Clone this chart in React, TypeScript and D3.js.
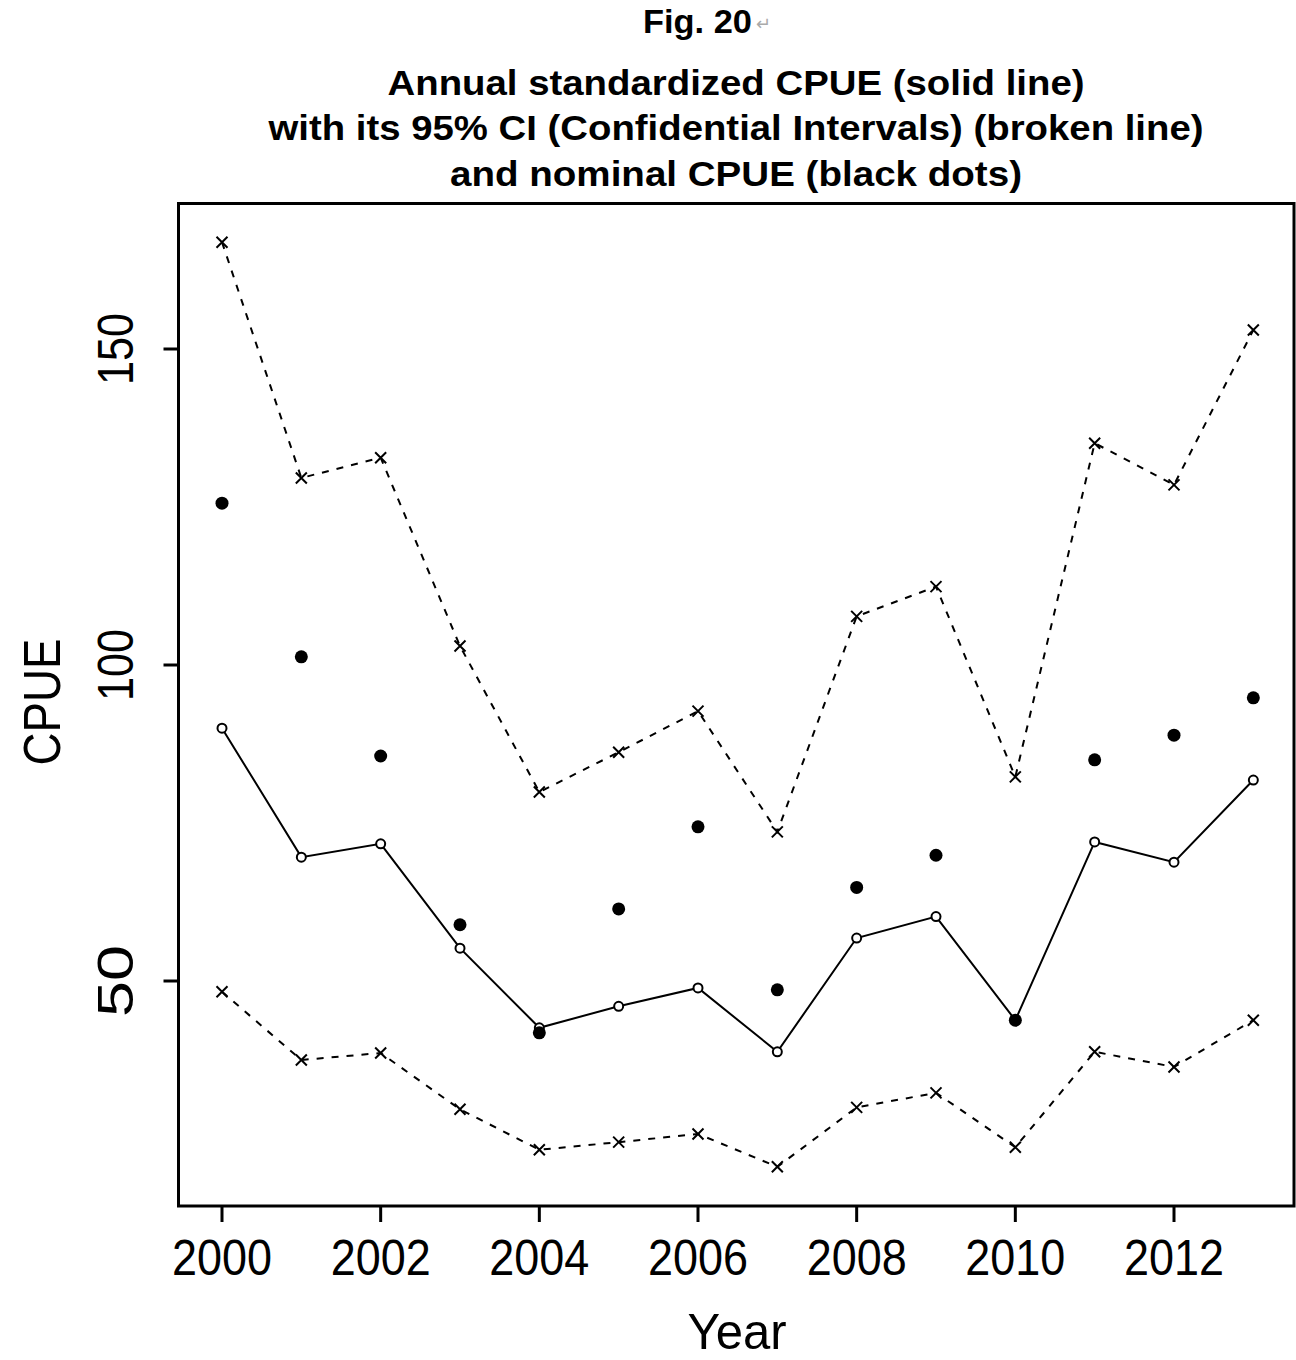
import * as d3 from "d3";

const YEARS = [2000, 2001, 2002, 2003, 2004, 2005, 2006, 2007, 2008, 2009, 2010, 2011, 2012, 2013];
const STANDARDIZED = [90, 69.6, 71.7, 55.2, 42.6, 46, 48.9, 38.8, 56.8, 60.2, 43.8, 72, 68.8, 81.8];
const UPPER_CI = [166.9, 129.6, 132.8, 103, 79.9, 86.2, 92.7, 73.6, 107.7, 112.4, 82.3, 135.1, 128.5, 153];
const LOWER_CI = [48.3, 37.5, 38.6, 29.7, 23.3, 24.5, 25.8, 20.6, 30, 32.3, 23.7, 38.8, 36.4, 43.8];
const NOMINAL = [125.6, 101.3, 85.6, 58.9, 41.8, 61.4, 74.4, 48.6, 64.8, 69.9, 43.8, 85, 88.9, 94.8];
const X_TICKS = [2000, 2002, 2004, 2006, 2008, 2010, 2012];
const Y_TICKS = [50, 100, 150];
const TITLE_LINES = [
  "Annual standardized CPUE (solid line)",
  "with its 95% CI (Confidential Intervals) (broken line)",
  "and nominal CPUE (black dots)",
];

const W = 1296;
const H = 1360;
// plot box (R style, 4% extended)
const BOX = { left: 178.5, top: 203.5, right: 1294, bottom: 1206 };
const FONT = "'Liberation Sans', Arial, sans-serif";

export default function App() {
  const x = d3.scaleLinear().domain([2000, 2012]).range([222, 1174]);
  const y = d3.scaleLinear().domain([50, 150]).range([981, 349]);

  const line = d3
    .line<number>()
    .x((_, i) => x(YEARS[i]))
    .y((d) => y(d));

  const cross = (cx: number, cy: number, k: string) => {
    const s = 5.5;
    return (
      <path
        key={k}
        d={`M${cx - s},${cy - s}L${cx + s},${cy + s}M${cx - s},${cy + s}L${cx + s},${cy - s}`}
        stroke="#000"
        strokeWidth={2}
      />
    );
  };

  const titleWidths = [697, 935, 572];
  const titleBase = [95, 140, 186];

  return (
    <div style={{ position: "absolute", left: 0, top: 0 }}>
      <svg width={W} height={H} style={{ display: "block", background: "#fff" }}>
        <rect width={W} height={H} fill="#fff" />
        {/* figure label */}
        <text
          x={643}
          y={33}
          fontFamily={FONT}
          fontWeight="bold"
          fontSize={34}
          textLength={109}
          lengthAdjust="spacingAndGlyphs"
        >
          Fig. 20
        </text>
        <text x={756} y={30} fontFamily={FONT} fontSize={18} fill="#aaa">
          ↵
        </text>

        {TITLE_LINES.map((t, i) => (
          <text
            key={t}
            x={736}
            y={titleBase[i]}
            textAnchor="middle"
            fontFamily={FONT}
            fontWeight="bold"
            fontSize={35}
            textLength={titleWidths[i]}
            lengthAdjust="spacingAndGlyphs"
          >
            {t}
          </text>
        ))}

        {/* box */}
        <rect
          x={BOX.left}
          y={BOX.top}
          width={BOX.right - BOX.left}
          height={BOX.bottom - BOX.top}
          fill="none"
          stroke="#000"
          strokeWidth={3}
        />

        {/* x axis */}
        {X_TICKS.map((t) => (
          <g key={t}>
            <line x1={x(t)} x2={x(t)} y1={BOX.bottom} y2={BOX.bottom + 16} stroke="#000" strokeWidth={3} />
            <text
              transform={`translate(${x(t)},1275) scale(1,1.1)`}
              textAnchor="middle"
              fontFamily={FONT}
              fontSize={46}
              textLength={100}
              lengthAdjust="spacingAndGlyphs"
            >
              {t}
            </text>
          </g>
        ))}

        {/* y axis */}
        {Y_TICKS.map((t) => (
          <g key={t}>
            <line x1={BOX.left - 15} x2={BOX.left} y1={y(t)} y2={y(t)} stroke="#000" strokeWidth={3} />
            <text
              transform={`translate(133,${y(t)}) rotate(-90) scale(1,1.1)`}
              textAnchor="middle"
              fontFamily={FONT}
              fontSize={46}
              textLength={72}
              lengthAdjust="spacingAndGlyphs"
            >
              {t}
            </text>
          </g>
        ))}

        <text
          transform="translate(60,702) rotate(-90)"
          textAnchor="middle"
          fontFamily={FONT}
          fontSize={52}
          textLength={127}
          lengthAdjust="spacingAndGlyphs"
        >
          CPUE
        </text>
        <text
          x={737}
          y={1349}
          textAnchor="middle"
          fontFamily={FONT}
          fontSize={50}
          textLength={99}
          lengthAdjust="spacingAndGlyphs"
        >
          Year
        </text>

        {/* confidence intervals */}
        <path d={line(UPPER_CI) ?? ""} fill="none" stroke="#000" strokeWidth={2} strokeDasharray="7 8" />
        <path d={line(LOWER_CI) ?? ""} fill="none" stroke="#000" strokeWidth={2} strokeDasharray="7 8" />
        {UPPER_CI.map((d, i) => cross(x(YEARS[i]), y(d), `u${i}`))}
        {LOWER_CI.map((d, i) => cross(x(YEARS[i]), y(d), `l${i}`))}

        {/* standardized CPUE */}
        <path d={line(STANDARDIZED) ?? ""} fill="none" stroke="#000" strokeWidth={2} />
        {STANDARDIZED.map((d, i) => (
          <circle key={`s${i}`} cx={x(YEARS[i])} cy={y(d)} r={4.5} fill="#fff" stroke="#000" strokeWidth={2} />
        ))}

        {/* nominal CPUE */}
        {NOMINAL.map((d, i) => (
          <circle key={`n${i}`} cx={x(YEARS[i])} cy={y(d)} r={6.5} fill="#000" />
        ))}
      </svg>
    </div>
  );
}
